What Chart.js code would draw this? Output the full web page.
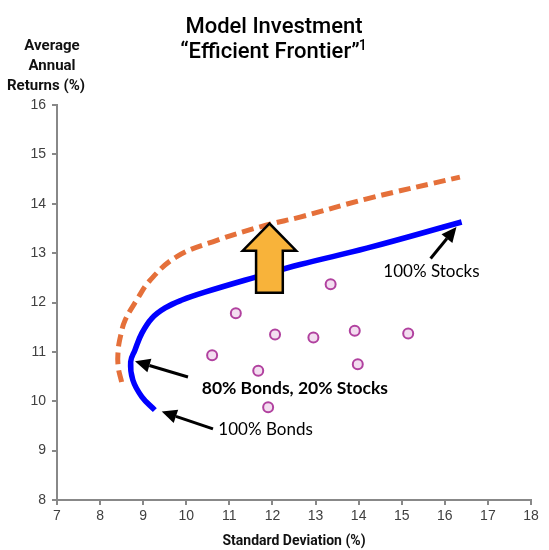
<!DOCTYPE html>
<html>
<head>
<meta charset="utf-8">
<script src="https://cdn.jsdelivr.net/npm/chart.js@4/dist/chart.umd.min.js"></script>
<style>
  html, body { margin: 0; padding: 0; background: #fff; }
  #wrap { width: 549px; height: 550px; }
</style>
</head>
<body>
<div id="wrap"><canvas id="c" width="549" height="550"></canvas></div>
<script>
// Axis ticks
const xTicks = [7, 8, 9, 10, 11, 12, 13, 14, 15, 16, 17, 18];
const yTicks = [8, 9, 10, 11, 12, 13, 14, 15, 16];

// Current efficient frontier (standard deviation %, average annual return %)
const frontierSd  = [9.27, 8.97, 8.76, 8.71, 8.81, 8.97, 9.20, 9.51, 9.90, 10.43, 11.63, 12.64, 14.19, 16.39];
const frontierRet = [9.82, 10.09, 10.43, 10.80, 11.04, 11.38, 11.68, 11.89, 12.05, 12.21, 12.52, 12.77, 13.10, 13.63];

// Improved frontier (dashed)
const improvedSd  = [8.50, 8.42, 8.42, 8.48, 8.58, 8.85, 9.16, 9.78, 10.71, 11.87, 12.64, 14.19, 16.35];
const improvedRet = [10.39, 10.70, 11.04, 11.34, 11.64, 12.05, 12.45, 12.93, 13.26, 13.57, 13.73, 14.10, 14.54];

// Individual portfolios
const portfolioSd  = [13.35, 11.15, 12.06, 12.95, 13.91, 15.15, 10.60, 11.67, 13.98, 11.90];
const portfolioRet = [12.37, 11.78, 11.35, 11.29, 11.43, 11.37, 10.93, 10.62, 10.75, 9.88];

// Upward shift arrow, in data units
const shiftArrow = { sd: 11.93, from: 12.20, to: 13.60, headStart: 13.05, headHalf: 0.62, shaftHalf: 0.31 };

// Callouts: label, label position, arrow tail and arrow tip (data units)
const calloutText = ['80% Bonds, 20% Stocks', '100% Bonds', '100% Stocks'];
const calloutBold = [true, false, false];
const calloutAt   = [[12.52, 10.27], [11.84, 9.42], [15.69, 12.62]];
const calloutTail = [[10.04, 10.49], [10.62, 9.44], [15.67, 12.89]];
const calloutTip  = [[8.81, 10.81], [9.43, 9.79], [16.27, 13.53]];

const toPts = (xs, ys) => xs.map((x, i) => ({ x: x, y: ys[i] }));

const overlay = {
  id: 'overlay',
  afterDatasetsDraw(chart) {
    const ctx = chart.ctx;
    const xs = chart.scales.x, ys = chart.scales.y;
    const px = v => xs.getPixelForValue(v);
    const py = v => ys.getPixelForValue(v);

    // Block arrow showing the upward shift of the frontier
    const a = shiftArrow;
    ctx.save();
    ctx.beginPath();
    ctx.moveTo(px(a.sd), py(a.to));
    ctx.lineTo(px(a.sd + a.headHalf), py(a.headStart));
    ctx.lineTo(px(a.sd + a.shaftHalf), py(a.headStart));
    ctx.lineTo(px(a.sd + a.shaftHalf), py(a.from));
    ctx.lineTo(px(a.sd - a.shaftHalf), py(a.from));
    ctx.lineTo(px(a.sd - a.shaftHalf), py(a.headStart));
    ctx.lineTo(px(a.sd - a.headHalf), py(a.headStart));
    ctx.closePath();
    ctx.fillStyle = '#F8B33A';
    ctx.fill();
    ctx.lineWidth = 2.5;
    ctx.strokeStyle = '#000';
    ctx.lineJoin = 'miter';
    ctx.stroke();
    ctx.restore();

    // Callout arrows and labels
    calloutText.forEach((t, i) => {
      const x0 = px(calloutTail[i][0]), y0 = py(calloutTail[i][1]);
      const x1 = px(calloutTip[i][0]), y1 = py(calloutTip[i][1]);
      const ang = Math.atan2(y1 - y0, x1 - x0);
      const hl = 15, hw = 7;
      const bx = x1 - hl * Math.cos(ang), by = y1 - hl * Math.sin(ang);
      ctx.save();
      ctx.strokeStyle = '#000';
      ctx.fillStyle = '#000';
      ctx.lineWidth = 3;
      ctx.beginPath();
      ctx.moveTo(x0, y0);
      ctx.lineTo(bx, by);
      ctx.stroke();
      ctx.beginPath();
      ctx.moveTo(x1, y1);
      ctx.lineTo(bx + hw * Math.sin(ang), by - hw * Math.cos(ang));
      ctx.lineTo(bx - hw * Math.sin(ang), by + hw * Math.cos(ang));
      ctx.closePath();
      ctx.fill();
      ctx.font = (calloutBold[i] ? 'bold 17.5px' : '17px') + ' Lato';
      ctx.textAlign = 'center';
      ctx.textBaseline = 'middle';
      ctx.fillText(t, px(calloutAt[i][0]), py(calloutAt[i][1]));
      ctx.restore();
    });
  },
  afterDraw(chart) {
    const ctx = chart.ctx;
    ctx.save();
    ctx.fillStyle = '#000';
    ctx.textAlign = 'center';
    ctx.textBaseline = 'alphabetic';
    ctx.font = '500 22px Roboto';
    ctx.fillText('Model Investment', 274, 33);
    const line2 = '\u201CEfficient Frontier\u201D';
    const w2 = ctx.measureText(line2).width;
    ctx.textAlign = 'left';
    ctx.fillText(line2, 274 - w2 / 2 - 4, 58);
    ctx.font = '500 14px Roboto';
    ctx.fillText('1', 274 + w2 / 2 - 5, 50);

    ctx.textAlign = 'center';
    ctx.font = 'bold 15px Roboto';
    ctx.fillStyle = '#111';
    ctx.fillText('Average', 52, 50);
    ctx.fillText('Annual', 52, 70);
    ctx.fillText('Returns (%)', 46, 90);
    ctx.font = 'bold 14px Roboto';
    ctx.fillText('Standard Deviation (%)', 294, 545);
    ctx.restore();
  }
};

const tickFont = { family: 'Liberation Sans', size: 14 };

new Chart(document.getElementById('c'), {
  type: 'scatter',
  data: {
    datasets: [
      {
        label: 'Improved frontier',
        data: toPts(improvedSd, improvedRet),
        showLine: true,
        borderColor: '#E5703A',
        borderWidth: 5,
        borderDash: [12, 6],
        borderCapStyle: 'butt',
        tension: 0.4,
        pointRadius: 0,
        fill: false
      },
      {
        label: 'Efficient frontier',
        data: toPts(frontierSd, frontierRet),
        showLine: true,
        borderColor: '#0000FF',
        borderWidth: 5.5,
        borderCapStyle: 'butt',
        tension: 0.4,
        pointRadius: 0,
        fill: false
      },
      {
        label: 'Portfolios',
        data: toPts(portfolioSd, portfolioRet),
        showLine: false,
        pointStyle: 'circle',
        pointRadius: 5,
        pointBorderWidth: 2,
        pointBorderColor: '#B1419F',
        pointBackgroundColor: '#F3DDF0'
      }
    ]
  },
  options: {
    responsive: false,
    animation: false,
    layout: { padding: { top: 105, right: 18, left: 0, bottom: 0 } },
    plugins: { legend: { display: false }, tooltip: { enabled: false }, title: { display: false } },
    scales: {
      x: {
        type: 'linear',
        min: xTicks[0],
        max: xTicks[xTicks.length - 1],
        afterBuildTicks: s => { s.ticks = xTicks.map(v => ({ value: v })); },
        afterFit: s => { s.height = 50; },
        ticks: { font: tickFont, color: '#404040', padding: 3, maxRotation: 0 },
        grid: { drawOnChartArea: false, drawTicks: true, tickLength: 5, color: '#888', lineWidth: 2 },
        border: { display: true, color: '#888', width: 2 }
      },
      y: {
        type: 'linear',
        min: yTicks[0],
        max: yTicks[yTicks.length - 1],
        afterBuildTicks: s => { s.ticks = yTicks.map(v => ({ value: v })); },
        afterFit: s => { s.width = 57; },
        ticks: { font: tickFont, color: '#404040', padding: 6 },
        grid: { drawOnChartArea: false, drawTicks: true, tickLength: 5, color: '#888', lineWidth: 2 },
        border: { display: true, color: '#888', width: 2 }
      }
    }
  },
  plugins: [overlay]
});
</script>
</body>
</html>
